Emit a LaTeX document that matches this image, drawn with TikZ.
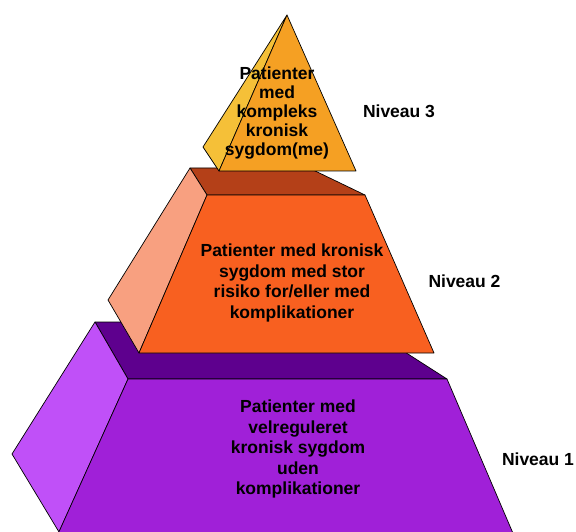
\documentclass[tikz,border=0pt]{standalone}
\usepackage{fontspec}
\setmainfont{Liberation Sans}
\definecolor{pTop}{RGB}{94,0,142}
\definecolor{pFront}{RGB}{160,32,216}
\definecolor{pLeft}{RGB}{192,80,248}
\definecolor{oTop}{RGB}{180,64,24}
\definecolor{oFront}{RGB}{248,96,32}
\definecolor{oLeft}{RGB}{248,160,128}
\definecolor{yFront}{RGB}{245,160,35}
\definecolor{yLeft}{RGB}{245,192,56}
\begin{document}
\begin{tikzpicture}[x=1pt,y=-1pt,
  face/.style={draw=black, line width=0.7pt, line join=round},
  txt/.style={font=\fontsize{17.5}{20.5}\selectfont\bfseries, align=center, inner sep=0pt},
  lvl/.style={font=\fontsize{17.5}{20}\selectfont\bfseries, inner sep=0pt},
]
\useasboundingbox (0,0) rectangle (576,532);
\clip (0,0) rectangle (576,532);
% ---- level 1 (purple)
\coordinate (b1) at (95,322);
\coordinate (b2) at (358,322);
\coordinate (b3) at (447,379);
\coordinate (b4) at (128,379);
\coordinate (bl) at (12,454);
\coordinate (bb) at (59,532);
\coordinate (bbl) at (53,545);
\coordinate (bbr) at (518,545);
\filldraw[face, fill=pTop] (b1) -- (b2) -- (b3) -- (b4) -- cycle;
\filldraw[face, fill=pLeft] (b1) -- (bl) -- (bb) -- (b4) -- cycle;
\filldraw[face, fill=pFront] (b4) -- (b3) -- (bbr) -- (bbl) -- cycle;
% ---- level 2 (orange)
\coordinate (m1) at (190,168);
\coordinate (m2) at (309,168);
\coordinate (m3) at (365,195);
\coordinate (m4) at (207,195);
\coordinate (ml) at (108,300);
\coordinate (mb) at (139,353);
\coordinate (mr) at (434,353);
\filldraw[face, fill=oTop] (m1) -- (m2) -- (m3) -- (m4) -- cycle;
\filldraw[face, fill=oLeft] (m1) -- (ml) -- (mb) -- (m4) -- cycle;
\filldraw[face, fill=oFront] (m4) -- (m3) -- (mr) -- (mb) -- cycle;
% ---- level 3 (yellow pyramid)
\coordinate (apex) at (287,15);
\coordinate (tl) at (203,147);
\coordinate (tb) at (219,171);
\coordinate (tr) at (356,171);
\filldraw[face, fill=yLeft] (apex) -- (tl) -- (tb) -- cycle;
\filldraw[face, fill=yFront] (apex) -- (tb) -- (tr) -- cycle;
% ---- texts
\node[txt, font=\fontsize{17.5}{19}\selectfont\bfseries] (t3) at (277,113) {Patienter\\med\\kompleks\\kronisk\\sygdom(me)};
\node[txt] (t2) at (292,283) {Patienter med kronisk\\sygdom med stor\\risiko for/eller med\\komplikationer};
\node[txt] (t1) at (298,449) {Patienter med\\velreguleret\\kronisk sygdom\\uden\\komplikationer};
\node[lvl] (n3) at (399,111) {Niveau 3};
\node[lvl] (n2) at (464.5,281) {Niveau 2};
\node[lvl] (n1) at (538,459) {Niveau 1};
\end{tikzpicture}
\end{document}
